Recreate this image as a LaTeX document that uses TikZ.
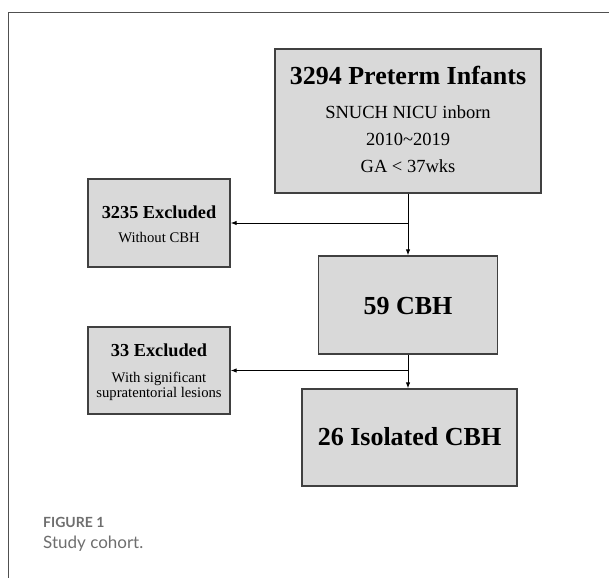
\documentclass[tikz,border=0pt]{standalone}
\usepackage{fontspec}
\setmainfont{Liberation Serif}
\newfontfamily\capfont{Lato}
\usetikzlibrary{arrows.meta}
\definecolor{boxfill}{HTML}{D9D9D9}
\definecolor{boxline}{HTML}{404040}
\definecolor{capgray}{HTML}{6E6E6E}
\definecolor{framegray}{HTML}{505050}
\begin{document}
\begin{tikzpicture}[x=1pt,y=-1pt,
  box/.style={draw=boxline, fill=boxfill, line width=1.3pt, inner sep=0pt},
  bigtxt/.style={anchor=base, inner sep=0pt, font=\fontsize{26}{30}\selectfont\bfseries},
  midtxt/.style={anchor=base, inner sep=0pt, font=\fontsize{18.5}{22}\selectfont},
  exbold/.style={anchor=base, inner sep=0pt, font=\fontsize{18.3}{22}\selectfont\bfseries},
  extxt/.style={anchor=base, inner sep=0pt, font=\fontsize{14.7}{17}\selectfont},
  conn/.style={draw=black, line width=1pt, -{Latex[length=6pt,width=4.5pt]}},
  captxt/.style={anchor=base west, inner sep=0pt, text=capgray}]
\useasboundingbox (0,0) rectangle (609,577);
\draw[framegray, line width=0.9pt] (8,580) -- (8,12) -- (615,12);
% boxes
\node[box, minimum width=266pt, minimum height=144pt] (b1) at (408,121) {};
\node[box, minimum width=142pt, minimum height=88pt] (b2) at (159,223) {};
\node[box, minimum width=179pt, minimum height=98pt] (b3) at (408,305) {};
\node[box, minimum width=142pt, minimum height=87pt] (b4) at (159,370.5) {};
\node[box, minimum width=215pt, minimum height=97pt] (b5) at (409.5,437.5) {};
% texts
\node[bigtxt] (t1a) at (408,85) {3294 Preterm Infants};
\node[midtxt] (t1b) at (408,119) {SNUCH NICU inborn};
\node[midtxt] (t1c) at (408,146) {2010\textasciitilde 2019};
\node[midtxt] (t1d) at (408,173) {GA < 37wks};
\node[exbold] (t2a) at (159,218) {3235 Excluded};
\node[extxt] (t2b) at (159,242) {Without CBH};
\node[bigtxt] (t3) at (408,314) {59 CBH};
\node[exbold] (t4a) at (159,356) {33 Excluded};
\node[extxt] (t4b) at (159,382) {With significant};
\node[extxt] (t4c) at (159,397) {supratentorial lesions};
\node[bigtxt] (t5) at (409.5,445) {26 Isolated CBH};
% connectors
\coordinate (j1) at (b1.south |- b2.east);
\coordinate (j2) at (b3.south |- b4.east);
\draw[conn] (b1.south) -- (b3.north);
\draw[conn] (j1) -- (b2.east);
\draw[conn] (b3.south) -- (b3.south |- b5.north);
\draw[conn] (j2) -- (b4.east);
% caption
\node[captxt, font=\capfont\fontsize{14}{16}\selectfont\bfseries] (cap1) at (43,527) {FIGURE 1};
\node[captxt, font=\capfont\fontsize{17}{20}\selectfont] (cap2) at (43,548) {Study cohort.};
\end{tikzpicture}
\end{document}
